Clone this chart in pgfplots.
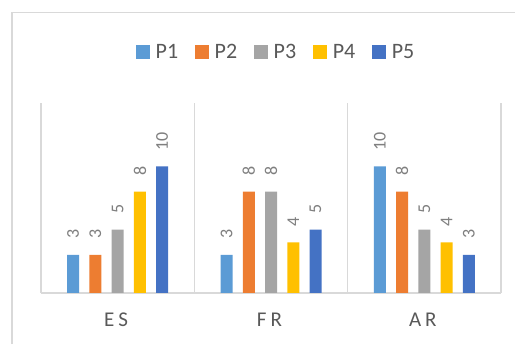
\documentclass[border=0pt]{standalone}
\usepackage{pgfplots}
\pgfplotsset{compat=1.18}
\usepackage{fontspec}
\setmainfont{Carlito}
\definecolor{cP1}{HTML}{5B9BD5}
\definecolor{cP2}{HTML}{ED7D31}
\definecolor{cP3}{HTML}{A5A5A5}
\definecolor{cP4}{HTML}{FFC000}
\definecolor{cP5}{HTML}{4472C4}
\definecolor{frame}{HTML}{D9D9D9}
\definecolor{txt}{HTML}{595959}
\definecolor{lbl}{HTML}{7F7F7F}
\pgfplotsset{legsq/.style={legend image code/.code={\fill[##1] (0pt,-7pt) rectangle (14pt,7pt);}}}
\begin{document}
\begin{tikzpicture}
\path (0pt,0pt) rectangle (516pt,345pt);
\draw[frame, line width=1.4pt] (12pt,0.8pt) -- (12pt,332.5pt) -- (515.2pt,332.5pt);
\begin{axis}[
  at={(41pt,52pt)}, anchor=south west,
  scale only axis, width=460pt, height=190pt,
  xmin=-0.5, xmax=2.5, ymin=0, ymax=15,
  ybar=10.25pt, bar width=12pt,
  xtick={0,1,2},
  xticklabels={{E\kern4pt S\kern3pt},{F\kern4pt R\kern3pt},{A\kern4pt R\kern3pt}},
  xticklabel style={font=\fontsize{21}{21}\selectfont, text=txt, inner sep=0pt, anchor=north, yshift=-20pt},
  major tick length=0pt,
  minor xtick={-0.5,0.5,1.5,2.5}, minor tick length=0pt,
  xminorgrids, minor grid style={frame, line width=1.4pt},
  separate axis lines,
  axis x line*=bottom, axis y line=none,
  x axis line style={-, frame, line width=1.4pt},
  /pgf/number format/assume math mode=true,
  nodes near coords,
  every node near coord/.append style={font=\fontsize{18}{18}\selectfont, text=lbl, rotate=90, anchor=west, inner sep=0pt, xshift=16pt},
  legend columns=5,
  legend style={draw=none, fill=none, at={(0.5087,1.27)}, anchor=center,
    font=\fontsize{22}{22}\selectfont, text=txt, nodes={inner sep=0pt},
    /tikz/every odd column/.append style={column sep=6pt},
    /tikz/every even column/.append style={column sep=16.5pt}},
]
\addplot[fill=cP1, draw=none, legsq] coordinates {(0,3) (1,3) (2,10)};
\addplot[fill=cP2, draw=none, legsq] coordinates {(0,3) (1,8) (2,8)};
\addplot[fill=cP3, draw=none, legsq] coordinates {(0,5) (1,8) (2,5)};
\addplot[fill=cP4, draw=none, legsq] coordinates {(0,8) (1,4) (2,4)};
\addplot[fill=cP5, draw=none, legsq] coordinates {(0,10) (1,5) (2,3)};
\legend{P1,P2,P3,P4,P5}
\end{axis}
\end{tikzpicture}
\end{document}
